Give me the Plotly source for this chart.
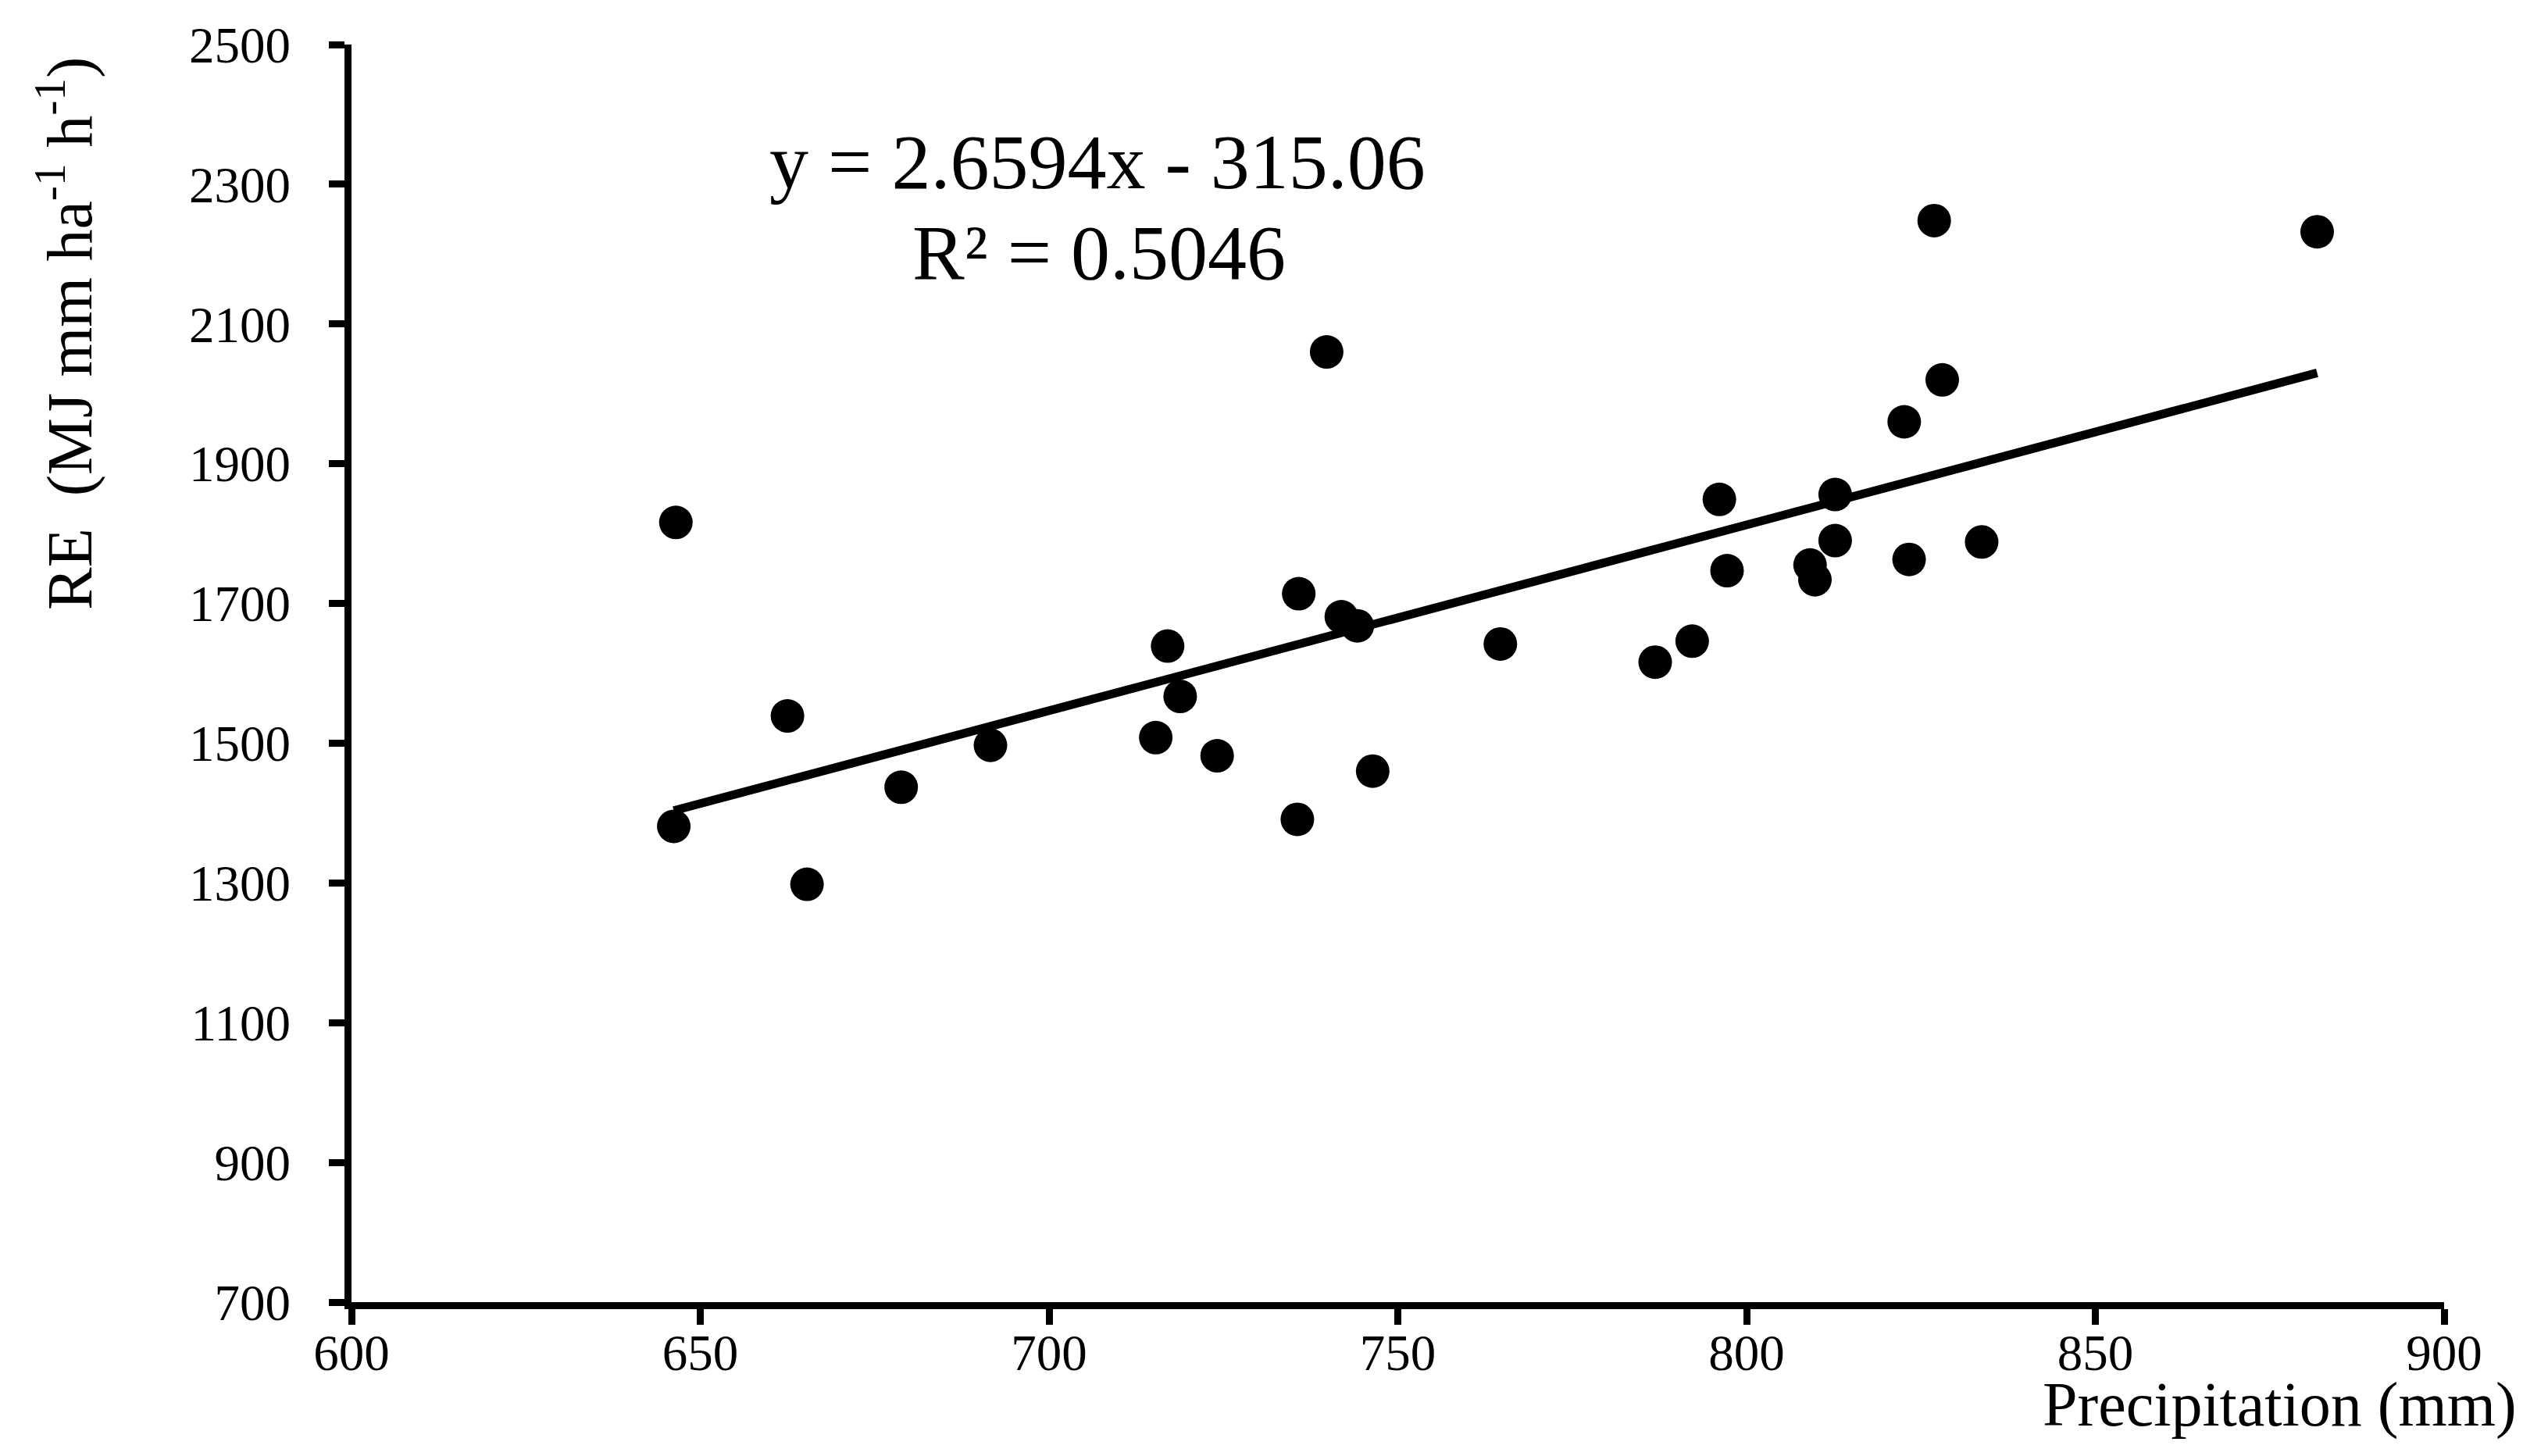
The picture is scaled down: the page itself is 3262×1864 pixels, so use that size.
import plotly.graph_objects as go

# ---- data ----
precip = [646.2, 646.5, 662.5, 665.3, 678.8, 691.6, 715.3, 717.0, 718.8, 724.1,
          735.6, 735.8, 739.8, 741.9, 744.2, 746.4, 764.7, 786.9, 792.2, 796.1,
          797.2, 809.1, 809.8, 812.7, 812.7, 822.6, 823.3, 826.9, 828.05, 833.7,
          881.8]
re_vals = [1381, 1816, 1539, 1298, 1437, 1497, 1508, 1639, 1567, 1482,
           1391, 1714, 2060, 1681, 1668, 1460, 1642, 1616, 1646, 1849,
           1747, 1755, 1734, 1856, 1790, 1960, 1763, 2248, 2020, 1788,
           2232]
slope = 2.6594
intercept = -315.06
eq_text = "y = 2.6594x - 315.06"
r2_text = "R² = 0.5046"
x_ticks = [600, 650, 700, 750, 800, 850, 900]
y_ticks = [700, 900, 1100, 1300, 1500, 1700, 1900, 2100, 2300, 2500]
x_title = "Precipitation (mm)"
y_title = "RE&nbsp; (MJ mm ha<sup>-1</sup> h<sup>-1</sup>)"

# ---- layout constants (page pixels) ----
W, H = 3262, 1864
BODY = 8                      # default <body> margin of the html page
FW, FH = W - 2 * BODY, H - 2 * BODY
PL, PR, PT, PB = 450, 3129, 57, 1667   # plot area on the page
FONT = "Liberation Serif, Times New Roman, serif"


def px_x(X):
    return (X - PL) / (PR - PL)


def px_y(Y):
    return (PB - Y) / (PB - PT)


fig = go.Figure()
fig.add_trace(go.Scatter(
    x=precip, y=re_vals, mode="markers",
    marker=dict(color="black", size=43, line=dict(width=0)),
    showlegend=False, hoverinfo="skip"))

x_lo, x_hi = min(precip), max(precip)
fig.add_trace(go.Scatter(
    x=[x_lo, x_hi], y=[slope * x_lo + intercept, slope * x_hi + intercept],
    mode="lines", line=dict(color="black", width=11),
    showlegend=False, hoverinfo="skip"))

axis_common = dict(
    showgrid=False, zeroline=False, showline=True, linecolor="black",
    linewidth=9, ticks="outside", ticklen=20, tickwidth=9, tickcolor="black",
    tickfont=dict(family=FONT, size=65, color="black"), automargin=False,
)
fig.update_xaxes(range=[600, 900], tickvals=x_ticks,
                 ticktext=[str(v) for v in x_ticks],
                 ticklabelstandoff=-20, **axis_common)
fig.update_yaxes(range=[700, 2500], tickvals=y_ticks,
                 ticktext=[str(v) for v in y_ticks],
                 ticklabelstandoff=36, **axis_common)

annots = [
    dict(text=eq_text, x=px_x(1405), y=px_y(208), font_size=100),
    dict(text=r2_text, x=px_x(1407), y=px_y(323), font_size=100),
    dict(text=x_title, x=px_x(2918), y=px_y(1798), font_size=80),
    dict(text=y_title, x=px_x(83), y=px_y(427), font_size=82, textangle=-90),
]
for a in annots:
    fs = a.pop("font_size")
    fig.add_annotation(xref="paper", yref="paper", showarrow=False,
                       xanchor="center", yanchor="middle",
                       font=dict(family=FONT, size=fs, color="black"), **a)

fig.update_layout(
    width=FW, height=FH,
    margin=dict(l=PL - BODY, r=FW - (PR - BODY), t=PT - BODY,
                b=FH - (PB - BODY), pad=0),
    paper_bgcolor="white", plot_bgcolor="white",
    font=dict(family=FONT, color="black"),
)
fig.write_html("out.html")
